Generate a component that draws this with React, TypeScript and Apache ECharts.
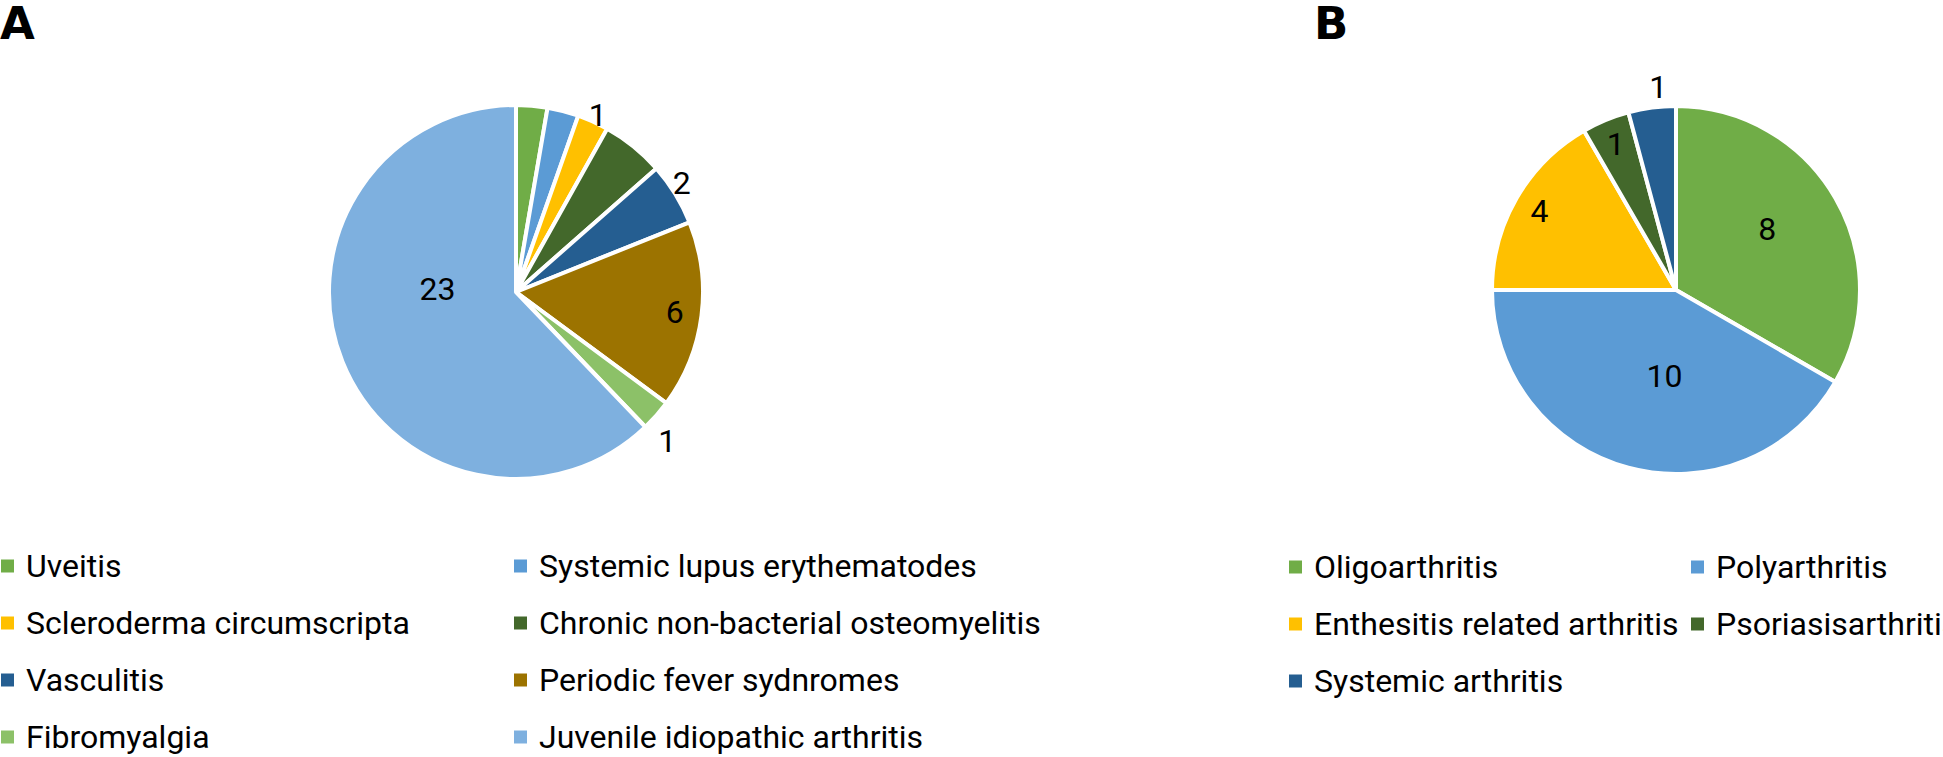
import React, { useEffect, useRef } from 'react';
import * as echarts from 'echarts';

// Panel A: diagnoses
const diagnosesA = [
  'Uveitis',
  'Systemic lupus erythematodes',
  'Scleroderma circumscripta',
  'Chronic non-bacterial osteomyelitis',
  'Vasculitis',
  'Periodic fever sydnromes',
  'Fibromyalgia',
  'Juvenile idiopathic arthritis',
];
const countsA = [1, 1, 1, 2, 2, 6, 1, 23];
const colorsA = ['#70AD47', '#5B9BD5', '#FFC000', '#43682B', '#255E91', '#9C7300', '#8CC168', '#7EB0DF'];
// where each value label sits: none | center | end (inside end) | outside
const labelModeA = ['none', 'none', 'outside', 'none', 'outside', 'end', 'outside', 'center'];

// Panel B: JIA subtypes
const subtypesB = [
  'Oligoarthritis',
  'Polyarthritis',
  'Enthesitis related arthritis',
  'Psoriasisarthritis',
  'Systemic arthritis',
];
const countsB = [8, 10, 4, 1, 1];
const colorsB = ['#70AD47', '#5B9BD5', '#FFC000', '#43682B', '#255E91'];
const labelModeB = ['center', 'center', 'end', 'end', 'outside'];

const FONT = 'Roboto, "Noto Sans", sans-serif';

type PieCfg = {
  names: string[];
  values: number[];
  colors: string[];
  modes: string[];
  center: [number, number];
  r: number;
  nudge: Record<number, [number, number]>;
  lineLen: Record<number, number>;
};

function buildPie(cfg: PieCfg) {
  const labelBase = { color: '#000', fontFamily: FONT, fontSize: 32, formatter: '{c}' };
  const main = {
    type: 'pie',
    center: cfg.center,
    radius: cfg.r,
    startAngle: 90,
    clockwise: true,
    avoidLabelOverlap: false,
    silent: true,
    emphasis: { disabled: true },
    itemStyle: { borderColor: '#fff', borderWidth: 4 },
    data: cfg.names.map((n, i) => {
      const m = cfg.modes[i];
      return {
        name: n,
        value: cfg.values[i],
        itemStyle: { color: cfg.colors[i] },
        label: {
          ...labelBase,
          show: m === 'center' || m === 'outside',
          position: m === 'outside' ? 'outside' : 'inside',
          distanceToLabelLine: 0,
          offset: cfg.nudge[i] || [0, 0],
        },
        labelLine: { show: false, length: cfg.lineLen[i] ?? 5, length2: 0 },
      };
    }),
  };
  const overlay = {
    type: 'pie',
    center: cfg.center,
    radius: [cfg.r * 0.68, cfg.r],
    startAngle: 90,
    clockwise: true,
    avoidLabelOverlap: false,
    silent: true,
    emphasis: { disabled: true },
    itemStyle: { color: 'rgba(0,0,0,0)', borderWidth: 0 },
    data: cfg.names.map((n, i) => ({
      name: n,
      value: cfg.values[i],
      label: { ...labelBase, show: cfg.modes[i] === 'end', position: 'inside' },
      labelLine: { show: false },
    })),
  };
  return [main, overlay];
}

function legendCol(names: string[], left: number, top: number) {
  return {
    orient: 'vertical',
    left,
    top,
    height: 240,
    padding: 0,
    itemGap: 25,
    itemWidth: 13,
    itemHeight: 13,
    icon: 'rect',
    selectedMode: false,
    itemStyle: { borderWidth: 0 },
    textStyle: { color: '#000', fontFamily: FONT, fontSize: 32, lineHeight: 32, padding: [0, 0, 0, 7] },
    data: names,
  };
}

export default function App() {
  const ref = useRef<HTMLDivElement>(null);
  useEffect(() => {
    if (!ref.current) return;
    const chart = echarts.init(ref.current, null, { renderer: 'svg' });
    const option = {
      animation: false,
      backgroundColor: '#fff',
      graphic: [
        { type: 'text', left: 0, top: 1, style: { text: 'A', font: 'bold 45px "DejaVu Sans"', fill: '#000' } },
        { type: 'text', left: 1314, top: 1, style: { text: 'B', font: 'bold 45px "DejaVu Sans"', fill: '#000' } },
      ],
      legend: [
        legendCol(diagnosesA.filter((_, i) => i % 2 === 0), 1, 550),
        legendCol(diagnosesA.filter((_, i) => i % 2 === 1), 514, 550),
        legendCol(subtypesB.filter((_, i) => i % 2 === 0), 1289, 551),
        legendCol(subtypesB.filter((_, i) => i % 2 === 1), 1691, 551),
      ],
      series: [
        ...buildPie({
          names: diagnosesA,
          values: countsA,
          colors: colorsA,
          modes: labelModeA,
          center: [516, 292],
          r: 187,
          nudge: { 2: [-6, -3], 4: [-5, -9], 6: [-11, 14], 7: [11, -39] },
          lineLen: { 2: 4, 4: 3, 6: 17 },
        }),
        ...buildPie({
          names: subtypesB,
          values: countsB,
          colors: colorsB,
          modes: labelModeB,
          center: [1676, 290],
          r: 184,
          nudge: { 0: [9, -14], 1: [13, -6], 4: [18, 0] },
          lineLen: { 4: 21 },
        }),
      ],
    };
    chart.setOption(option as any);
    return () => chart.dispose();
  }, []);
  return (
    <div
      ref={ref}
      style={{ position: 'fixed', left: 0, top: 0, width: 1943, height: 757 }}
    />
  );
}
